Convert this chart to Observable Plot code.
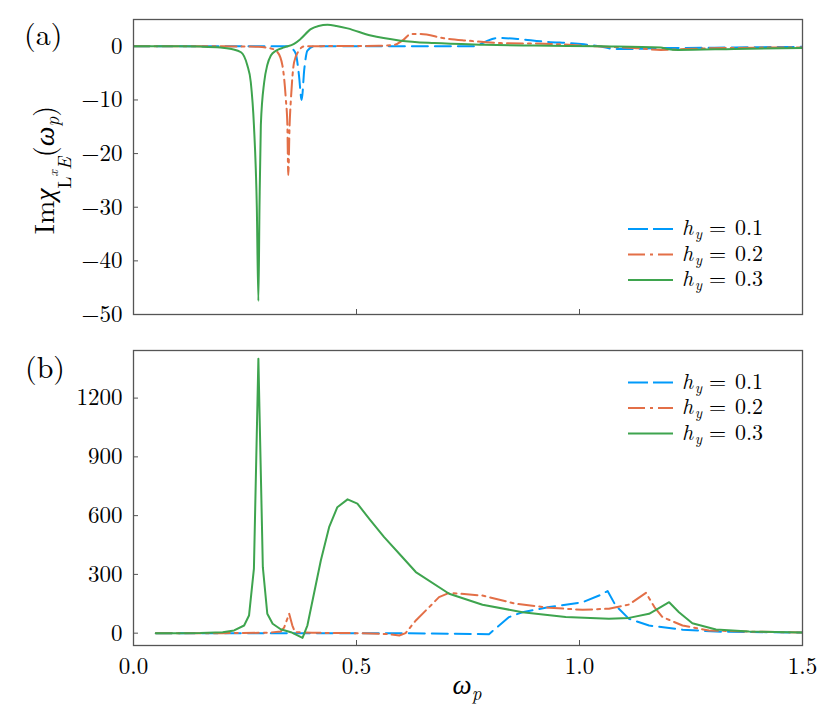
<!DOCTYPE html>
<html>
<head>
<meta charset="utf-8">
<script src="https://cdn.jsdelivr.net/npm/d3@7"></script>
<script src="https://cdn.jsdelivr.net/npm/@observablehq/plot@0.6"></script>
<style>
  body { margin: 0; background: #fff; }
  #chart svg { display: block; }
  #chart svg, #chart svg text { font-family: "Latin Modern Roman", "Liberation Serif", serif !important; }
</style>
</head>
<body>
<div id="chart"></div>
<script>
// ---------- data ----------
const seriesLabels = ["0.1", "0.2", "0.3"];
const seriesColors = ["#009AFA", "#E36F47", "#3EA44E"];
const xTicks = [0, 0.5, 1.0, 1.5];
const yTicksA = [0, -10, -20, -30, -40, -50];
const yTicksB = [0, 300, 600, 900, 1200];

// panel (a): Im chi, h_y = 0.1
const aW1 = [0, 0.2, 0.3, 0.345, 0.355, 0.364, 0.371, 0.377, 0.383, 0.39, 0.405, 0.5, 0.6, 0.764, 0.78, 0.794, 0.816, 0.861, 0.913, 1.01, 1.048, 1.078, 1.122, 1.182, 1.235, 1.35, 1.5];
const aV1 = [0, 0, 0, 0, -0.4, -1.4, -5.4, -10, -4.2, -0.8, 0, 0, 0, 0, 0.5, 1.06, 1.55, 1.37, 0.93, 0.37, -0.05, -0.5, -0.5, -0.3, -0.3, -0.2, -0.1];
// panel (a): h_y = 0.2
const aW2 = [0, 0.2, 0.28, 0.308, 0.323, 0.334, 0.3415, 0.345, 0.347, 0.35, 0.353, 0.36, 0.371, 0.383, 0.45, 0.55, 0.584, 0.605, 0.622, 0.644, 0.696, 0.749, 0.824, 0.936, 1.048, 1.122, 1.182, 1.235, 1.35, 1.5];
const aV2 = [0, 0, -0.1, -0.4, -1.1, -3.6, -9.8, -14.7, -24, -14.7, -9.8, -3, -0.8, 0, 0.05, 0.1, 0.25, 1.2, 2.3, 2.3, 1.5, 1.06, 0.6, 0.45, -0.05, -0.3, -0.67, -0.5, -0.3, -0.2];
// panel (a): h_y = 0.3
const aW3 = [0, 0.1, 0.15, 0.195, 0.22, 0.241, 0.255, 0.263, 0.27, 0.2765, 0.28, 0.2825, 0.2855, 0.293, 0.3, 0.308, 0.32, 0.338, 0.36, 0.375, 0.3975, 0.415, 0.435, 0.455, 0.48, 0.532, 0.599, 0.674, 0.786, 0.898, 1.048, 1.182, 1.197, 1.22, 1.347, 1.5];
const aV3 = [0, 0, -0.05, -0.2, -0.5, -1.1, -3.5, -6.7, -14.7, -30, -47.5, -30, -14.7, -6.7, -3.5, -1.7, -0.8, -0.2, 0.45, 1.4, 3.2, 3.8, 4.0, 3.8, 3.35, 2.0, 1.06, 0.6, 0.3, 0.13, 0, -0.2, -0.5, -0.67, -0.5, -0.3];

// panel (b): h_y = 0.1
const bW1 = [0.05, 0.3, 0.6, 0.797, 0.842, 0.872, 0.932, 1.007, 1.044, 1.063, 1.081, 1.111, 1.156, 1.231, 1.306, 1.5];
const bV1 = [0, 0, 0, -5, 82, 107, 133, 158, 192, 215, 141, 73, 39, 18, 8, 3];
// panel (b): h_y = 0.2
const bW2 = [0.05, 0.2, 0.3, 0.33, 0.338, 0.349, 0.356, 0.362, 0.4, 0.5, 0.57, 0.596, 0.61, 0.633, 0.663, 0.685, 0.708, 0.782, 0.857, 0.932, 1.007, 1.066, 1.111, 1.149, 1.168, 1.186, 1.231, 1.29, 1.38, 1.5];
const bV2 = [0, 0, 2, 8, 30, 99, 40, 5, 2, 0, -5, -12, 0, 65, 133, 184, 206, 192, 150, 130, 119, 125, 146, 206, 133, 82, 39, 14, 8, 3];
// panel (b): h_y = 0.3
const bW3 = [0.05, 0.1, 0.15, 0.2, 0.2256, 0.248, 0.259, 0.27, 0.28, 0.29, 0.3, 0.312, 0.33, 0.353, 0.379, 0.39, 0.42, 0.4386, 0.457, 0.48, 0.502, 0.53, 0.562, 0.6, 0.633, 0.7077, 0.7825, 0.872, 0.969, 1.066, 1.111, 1.156, 1.182, 1.201, 1.223, 1.253, 1.306, 1.38, 1.5];
const bV3 = [0, 0, 1, 5, 14, 39, 90, 329, 1401, 337, 99, 48, 20, 5, -24, 40, 371, 541, 643, 683, 661, 580, 490, 395, 312, 201, 145, 107, 82, 73, 78, 99, 133, 158, 107, 51, 19, 9, 3];

// ---------- helpers ----------
const zip = (ws, vs) => ws.map((w, i) => ({w, v: vs[i]}));
const dashes = [[16, 7], [16, 5, 3, 5], null];
const W = 830, ML = 133, MR = 28;
const FONT = "Latin Modern Roman, Liberation Serif, serif";
const fmtY = d => d < 0 ? "\u2212" + Math.abs(d) : String(d);

function panel({height, marginTop, marginBottom, yDomain, yTicks, series, curve, xLabels}) {
  const plotH = height - marginTop - marginBottom;
  const plotW = W - ML - MR;
  const marks = [
    Plot.axisY(yTicks, {tickSize: 0, tickPadding: 11, tickFormat: fmtY, label: null, fontSize: 23, fill: "#000"}),
    Plot.ruleY(yTicks, {insetRight: plotW - 5, stroke: "#555", strokeWidth: 1}),
    Plot.ruleX(xTicks, {insetTop: plotH - 5, stroke: "#555", strokeWidth: 1})
  ];
  if (xLabels) {
    marks.push(Plot.axisX(xTicks, {tickSize: 0, tickPadding: 12, tickFormat: d3.format(".1f"), label: null, fontSize: 23, fill: "#000"}));
  }
  series.forEach((rows, i) => {
    const opts = {x: "w", y: "v", stroke: seriesColors[i], strokeWidth: 2, curve, clip: true};
    if (dashes[i]) opts.strokeDasharray = dashes[i].join(",");
    marks.push(Plot.line(rows, opts));
  });
  marks.push(Plot.frame({stroke: "#555", strokeWidth: 1.3}));
  return Plot.plot({
    width: W, height, marginLeft: ML, marginRight: MR, marginTop, marginBottom,
    style: {fontFamily: FONT, fontSize: "23px", color: "#000", background: "#fff"},
    x: {domain: [0, 1.5], axis: xLabels ? undefined : null},
    y: {domain: yDomain},
    marks
  });
}

function legend(svg, rowYs) {
  const g = svg.append("g").attr("text-anchor", "start");
  rowYs.forEach((y, i) => {
    const ln = g.append("line").attr("x1", 628).attr("x2", 673).attr("y1", y).attr("y2", y)
      .attr("stroke", seriesColors[i]).attr("stroke-width", 2);
    if (dashes[i]) ln.attr("stroke-dasharray", i === 0 ? "20,5" : "17,5,3,5");
    const t = g.append("text").attr("x", 682).attr("y", y + 6).attr("font-size", 22).attr("fill", "#000");
    t.append("tspan").attr("font-style", "italic").text("h");
    t.append("tspan").attr("font-style", "italic").attr("font-size", 15).attr("dx", 1.5).attr("dy", 4).text("y");
    t.append("tspan").attr("x", 709).attr("dy", -4).text("=");
    t.append("tspan").attr("x", 735).text(seriesLabels[i]);
  });
}

// ---------- panel (a) ----------
const chartA = panel({
  height: 330, marginTop: 19, marginBottom: 16,
  yDomain: [-50, 5], yTicks: yTicksA,
  series: [zip(aW1, aV1), zip(aW2, aV2), zip(aW3, aV3)],
  curve: "monotone-x", xLabels: false
});
// ---------- panel (b) ----------
const chartB = panel({
  height: 392, marginTop: 20, marginBottom: 77,
  yDomain: [-63, 1443], yTicks: yTicksB,
  series: [zip(bW1, bV1), zip(bW2, bV2), zip(bW3, bV3)],
  curve: "linear", xLabels: true
});

const root = document.getElementById("chart");
root.append(chartA, chartB);

const sA = d3.select(chartA);
const sB = d3.select(chartB);

legend(sA, [229, 254.5, 280]);
legend(sB, [382.5 - 330, 408 - 330, 433.5 - 330]);

// panel labels
sA.append("text").attr("x", 24).attr("y", 45).attr("text-anchor", "start").attr("font-size", 30).attr("fill", "#000").text("(a)");
sB.append("text").attr("x", 25).attr("y", 378 - 330).attr("text-anchor", "start").attr("font-size", 30).attr("fill", "#000").text("(b)");

// y label of panel (a)
{
  const t = sA.append("text").attr("transform", "translate(54,170) rotate(-90)")
    .attr("text-anchor", "middle").attr("font-size", 28).attr("fill", "#000");
  t.append("tspan").text("Im");
  t.append("tspan").attr("font-style", "italic").text("\u03C7");
  t.append("tspan").attr("font-size", 19).attr("dy", 17).text("L");
  t.append("tspan").attr("font-size", 14).attr("font-style", "italic").attr("dy", -13).text("x");
  t.append("tspan").attr("font-size", 19).attr("font-style", "italic").attr("dy", 13).text("E");
  t.append("tspan").attr("dy", -17).text("(");
  t.append("tspan").attr("font-style", "italic").text("\u03C9");
  t.append("tspan").attr("font-size", 19).attr("font-style", "italic").attr("dy", 5).text("p");
  t.append("tspan").attr("dy", -5).text(")");
}

// x label of panel (b)
{
  const t = sB.append("text").attr("x", 467).attr("y", 694 - 330).attr("text-anchor", "middle")
    .attr("font-size", 27).attr("fill", "#000");
  t.append("tspan").attr("font-style", "italic").text("\u03C9");
  t.append("tspan").attr("font-style", "italic").attr("font-size", 19).attr("dy", 6).text("p");
}
</script>
</body>
</html>
